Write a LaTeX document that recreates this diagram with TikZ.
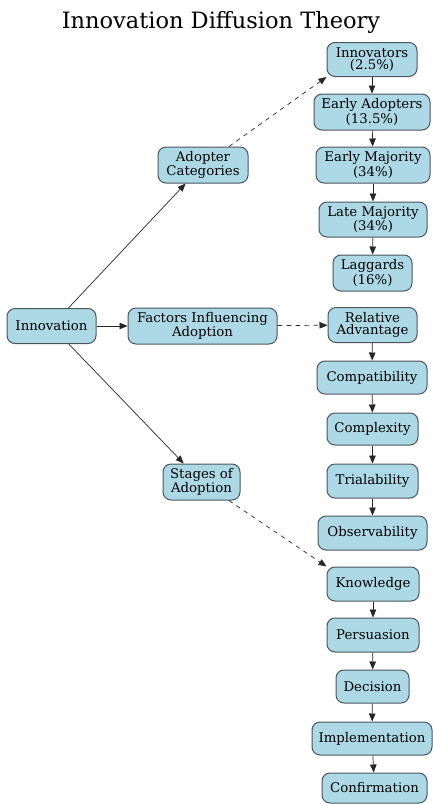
\documentclass[tikz,border=0pt]{standalone}
\usepackage{fontspec}
\setmainfont{DejaVu Serif}
\usetikzlibrary{arrows.meta}
\definecolor{boxfill}{RGB}{173,216,230}
\definecolor{boxline}{RGB}{75,86,92}
\begin{document}
\begin{tikzpicture}[x=1pt,y=-1pt,
  box/.style={draw=boxline, fill=boxfill, rounded corners=8pt, line width=1pt,
    align=center, font=\fontsize{13.3}{12.6}\selectfont, inner sep=1pt},
  link/.style={-{Triangle[length=8pt,width=6.5pt]}, draw=black!85, line width=0.7pt},
  dashlink/.style={link, dash pattern=on 4.5pt off 4.5pt}]
\useasboundingbox (0,0) rectangle (432,804);

\node[font=\fontsize{22.5}{24}\selectfont] (title) at (221,22) {Innovation Diffusion Theory};

% root and the three branches
\node[box, minimum width=89pt, minimum height=35pt] (root) at (51.5,326) {Innovation};
\node[box, minimum width=90pt, minimum height=36pt] (adopt) at (203,165) {Adopter\\Categories};
\node[box, minimum width=149pt, minimum height=36pt] (factors) at (202.5,326) {Factors Influencing\\Adoption};
\node[box, minimum width=77pt, minimum height=36pt] (stages) at (201.5,482) {Stages of\\Adoption};

% adopter categories
\node[box, minimum width=90pt, minimum height=34pt] (inn) at (372,59.5) {Innovators\\(2.5\%)};
\node[box, minimum width=116pt, minimum height=36pt] (ead) at (372,112) {Early Adopters\\(13.5\%)};
\node[box, minimum width=114pt, minimum height=36pt] (emj) at (373,165) {Early Majority\\(34\%)};
\node[box, minimum width=108pt, minimum height=35pt] (lmj) at (373,219.5) {Late Majority\\(34\%)};
\node[box, minimum width=79pt, minimum height=36pt] (lag) at (372.5,273) {Laggards\\(16\%)};

% factors
\node[box, minimum width=89pt, minimum height=35pt] (rel) at (372.5,325) {Relative\\Advantage};
\node[box, minimum width=110pt, minimum height=33pt] (com) at (372,377.5) {Compatibility};
\node[box, minimum width=91pt, minimum height=32pt] (cpx) at (372.5,429) {Complexity};
\node[box, minimum width=91pt, minimum height=34pt] (tri) at (372.5,481) {Trialability};
\node[box, minimum width=109pt, minimum height=34pt] (obs) at (372.5,533) {Observability};

% stages
\node[box, minimum width=92pt, minimum height=34pt] (kno) at (373,584) {Knowledge};
\node[box, minimum width=92pt, minimum height=34pt] (per) at (373,635) {Persuasion};
\node[box, minimum width=73pt, minimum height=33pt] (dec) at (372.5,686.5) {Decision};
\node[box, minimum width=120pt, minimum height=33pt] (imp) at (372,738.5) {Implementation};
\node[box, minimum width=105pt, minimum height=30pt] (con) at (374.5,788) {Confirmation};

% connectors
\draw[link] (root) -- (adopt);
\draw[link] (root) -- (factors);
\draw[link] (root) -- (stages);

\draw[dashlink] (adopt) -- (inn.south west);
\draw[dashlink] (factors) -- (rel);
\draw[dashlink] (stages) -- (kno.north west);

\foreach \a/\b in {inn/ead, ead/emj, emj/lmj, lmj/lag,
                   rel/com, com/cpx, cpx/tri, tri/obs,
                   kno/per, per/dec, dec/imp, imp/con}
  \draw[link] (\a) -- (\b);
\end{tikzpicture}
\end{document}
